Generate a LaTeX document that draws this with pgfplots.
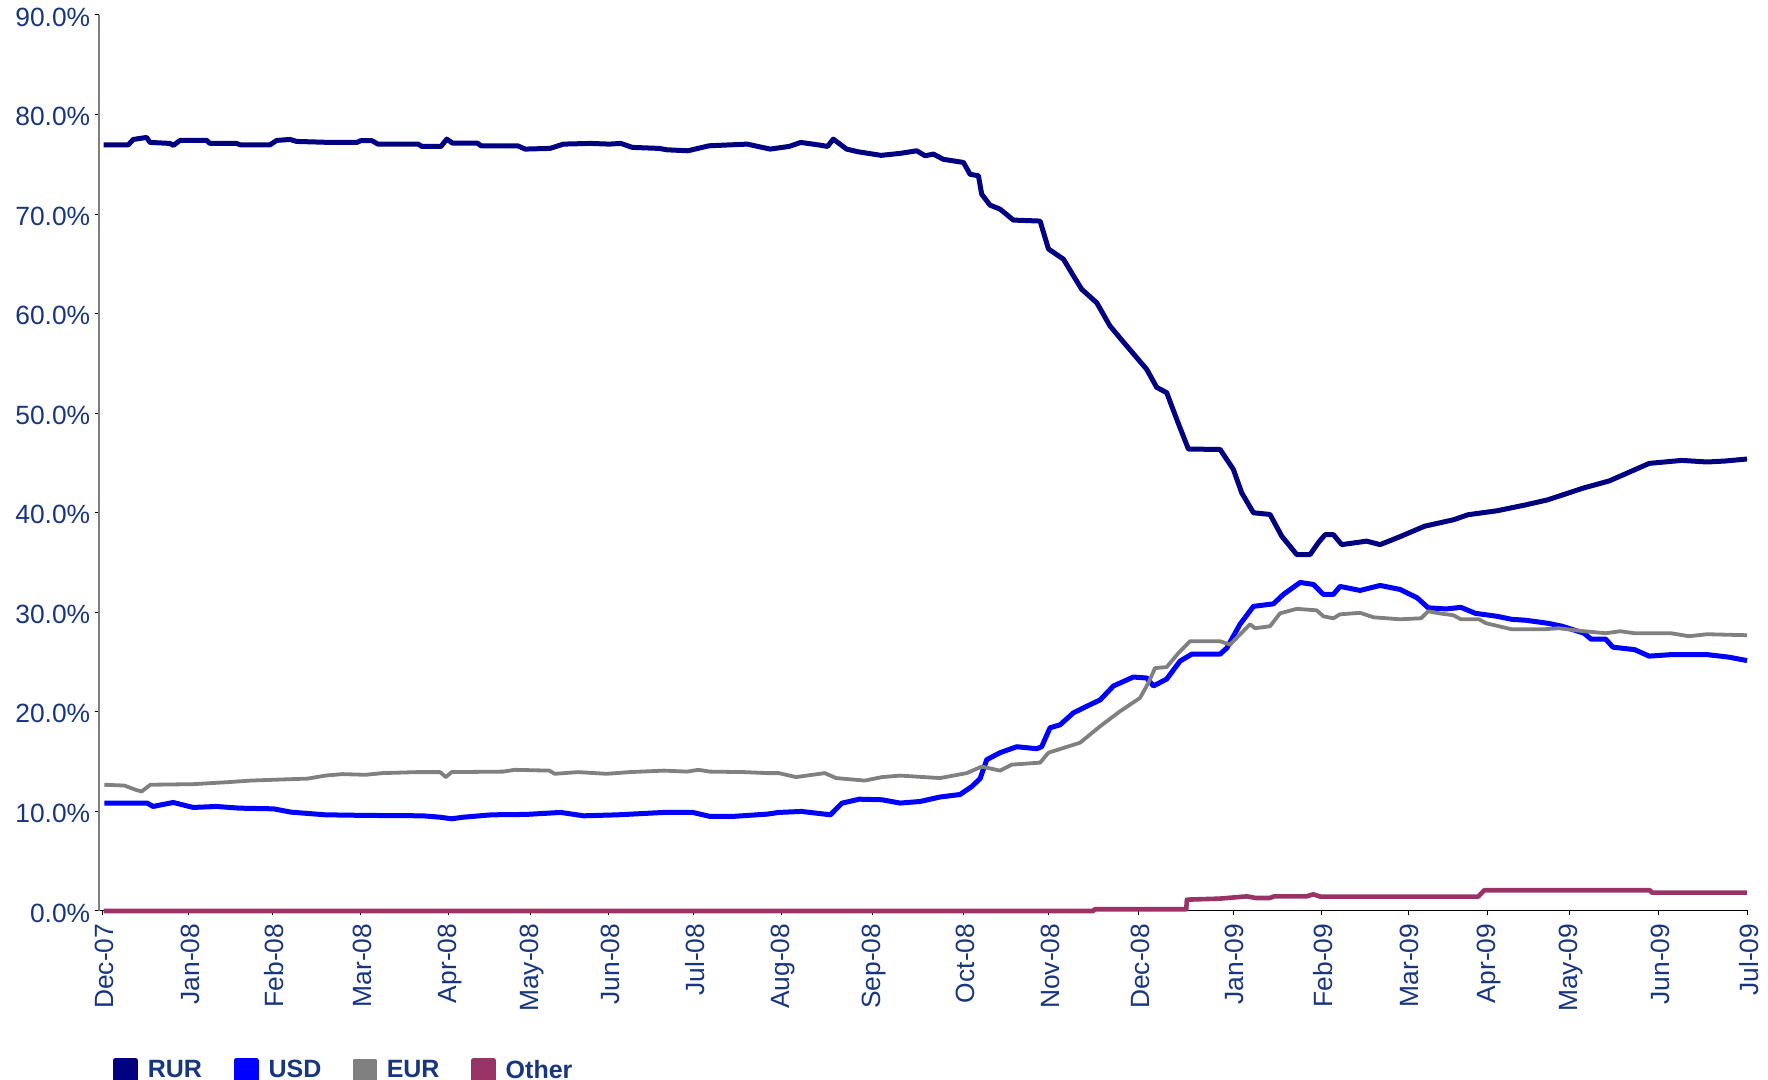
\documentclass[border=0pt]{standalone}
\usepackage{fontspec}
\setmainfont{Liberation Sans}
\usepackage{pgfplots}
\pgfplotsset{compat=1.18}

\definecolor{rurc}{RGB}{0,0,128}
\definecolor{usdc}{RGB}{0,0,255}
\definecolor{eurc}{RGB}{128,128,128}
\definecolor{othc}{RGB}{153,51,102}
\definecolor{labc}{RGB}{24,54,126}

\begin{document}
\begin{tikzpicture}
% picture frame: 1 px of the reference = 0.5pt
\path[use as bounding box] (0,0) rectangle (884pt,540pt);
\begin{axis}[
    at={(49.5pt,84.5pt)}, anchor=south west,
    scale only axis,
    width=824.5pt, height=448pt,
    xmin=87.8, xmax=1550.2,
    ymin=0, ymax=90,
    enlargelimits=false,
    clip=false,
    axis x line*=bottom,
    axis y line*=left,
    x axis line style={black, line width=0.5pt},
    y axis line style={eurc, line width=0.6pt},
    tick align=outside,
    major tick length=2.2pt,
    tick style={black, line width=0.5pt},
    ytick={0,10,...,90},
    yticklabel={\pgfmathprintnumber[fixed,fixed zerofill,precision=1]{\tick}\%},
    /pgf/number format/assume math mode=true,
    xtick={91,167.1,241.5,319.9,397.9,470.4,540,615.3,693,773.4,854.5,930.2,1009.6,1093.5,1171.6,1248.9,1319.2,1392.2,1470.9,1549.9},
    xticklabels={Dec-07,Jan-08,Feb-08,Mar-08,Apr-08,May-08,Jun-08,Jul-08,Aug-08,Sep-08,Oct-08,Nov-08,Dec-08,Jan-09,Feb-09,Mar-09,Apr-09,May-09,Jun-09,Jul-09},
    tick label style={font=\fontsize{13.2}{15}\selectfont, text=labc},
    xticklabel style={rotate=90, anchor=east, inner sep=0pt, xshift=-4pt, yshift=-0.8pt},
    yticklabel style={anchor=east, inner sep=0pt, xshift=-2pt, yshift=-1pt},
    legend columns=4,
    legend style={draw=none, fill=none, at={(0.0045,-0.178)}, anchor=west,
        font=\bfseries\fontsize{12.5}{14}\selectfont, text=labc,
        nodes={inner sep=0pt},
        /tikz/every odd column/.append style={column sep=5pt},
        /tikz/every even column/.append style={column sep=15.8pt}},
]
% RUR
\addplot[rurc, line width=2.5pt, line join=round,
    legend image code/.code={\fill[rurc] (0pt,-5pt) rectangle (10pt,5pt);}] coordinates {
(92,76.96) (113.8,76.96) (118.2,77.5) (130,77.7) (133,77.2) (150.8,77.1) (153.7,76.9)
(159.6,77.4) (183.3,77.4) (186.2,77.1) (209.9,77.1) (212.8,76.96) (239.5,76.96)
(245.4,77.4) (257.2,77.5) (263.1,77.3) (292.7,77.2) (316.5,77.2) (319.8,77.37)
(330,77.37) (335.1,77.03) (370.8,77.03) (374.1,76.8) (391.1,76.8) (396.2,77.53)
(401.3,77.13) (423.3,77.13) (426.7,76.86) (459,76.86) (465.8,76.53) (487.8,76.6)
(499.7,77.03) (523.5,77.1) (540.4,77.03) (550.6,77.1) (560.8,76.7) (584.5,76.6)
(591.3,76.46) (610,76.36) (628.7,76.86) (662.6,77.03) (683,76.53) (700,76.8)
(710.1,77.2) (727.1,76.93) (733.9,76.8) (739,77.53) (750.8,76.53) (761,76.26)
(781.4,75.9) (798.3,76.1) (813,76.36) (820.4,75.86) (827.8,76.03) (836.6,75.5)
(854.4,75.19) (860.3,74.0) (867.7,73.85) (870.6,72.0) (878,70.9) (886.9,70.5)
(898.7,69.4) (922.4,69.3) (929.8,66.5) (943.1,65.47) (952,63.8) (959.3,62.45)
(972.6,61.1) (984.4,58.76) (999.2,56.76) (1017,54.4) (1025.8,52.6) (1034.7,52.06)
(1043.6,49.38) (1053.9,46.4) (1082,46.36) (1093.8,44.36) (1101.2,42.0) (1111.6,40.0)
(1126.3,39.83) (1136.7,37.65) (1150,35.8) (1161.8,35.8) (1169.2,37.0) (1175.1,37.8)
(1182.5,37.8) (1189.9,36.8) (1212,37.15) (1223.9,36.8) (1241.6,37.6) (1263.4,38.65)
(1289.1,39.3) (1301.9,39.8) (1327.6,40.2) (1353.3,40.8) (1372.6,41.3) (1404.7,42.5)
(1427.2,43.2) (1443.3,44.0) (1462.6,44.96) (1491.5,45.26) (1514,45.1) (1530,45.2)
(1549.3,45.4)
};
\addlegendentry{RUR}
% USD
\addplot[usdc, line width=2.5pt, line join=round,
    legend image code/.code={\fill[usdc] (0pt,-5pt) rectangle (10pt,5pt);}] coordinates {
(92.5,10.83) (130.7,10.83) (135.8,10.5) (153.6,10.9) (171.4,10.4) (191.8,10.5)
(212.2,10.33) (242.7,10.26) (258,9.93) (288.5,9.66) (324.1,9.6) (375,9.56)
(390.3,9.42) (400.5,9.26) (410.7,9.42) (436.1,9.66) (466.7,9.7) (497.2,9.9)
(517.6,9.56) (548.1,9.66) (588.8,9.9) (614.3,9.9) (629.6,9.5) (649.9,9.5)
(680.5,9.73) (690.6,9.9) (710.9,10.0) (736.5,9.66) (746.6,10.83) (762,11.23)
(782.3,11.17) (798.2,10.84) (815.9,11.0) (833.7,11.45) (851.4,11.7) (861.8,12.5)
(869.2,13.3) (875.1,15.2) (886.9,15.9) (901.7,16.5) (919.4,16.3) (923.8,16.5)
(931.2,18.4) (940.1,18.7) (951.9,19.9) (963.7,20.56) (975.6,21.2) (987.4,22.6)
(1005.1,23.5) (1017,23.4) (1022.9,22.6) (1034.7,23.3) (1046.5,25.1) (1056.9,25.8)
(1082,25.8) (1087.9,26.4) (1099.7,28.8) (1111.6,30.6) (1129.3,30.85) (1138.2,31.8)
(1153,33.0) (1164.8,32.8) (1173.6,31.8) (1182.5,31.8) (1188.4,32.6) (1206.2,32.2)
(1223.9,32.7) (1241.6,32.3) (1256.9,31.45) (1266.6,30.45) (1282.6,30.34)
(1295.5,30.5) (1308.4,29.9) (1327.6,29.6) (1340.5,29.3) (1353.3,29.2) (1372.6,28.9)
(1385.5,28.6) (1404.7,27.9) (1411.1,27.3) (1424,27.3) (1430.4,26.5) (1449.7,26.25)
(1462.5,25.6) (1481.8,25.75) (1514,25.75) (1533.2,25.5) (1549.3,25.15)
};
\addlegendentry{USD}
% EUR
\addplot[eurc, line width=1.9pt, line join=round,
    legend image code/.code={\fill[eurc] (0pt,-5pt) rectangle (10pt,5pt);}] coordinates {
(92.5,12.68) (110.3,12.6) (120.5,12.17) (125.6,12.0) (133.3,12.68) (171.4,12.74)
(202,12.94) (222.3,13.1) (247.8,13.2) (273.2,13.3) (288.5,13.6) (303.8,13.75)
(324.1,13.68) (339.4,13.85) (370,13.95) (390.3,13.95) (395.4,13.45) (400.5,13.95)
(446.3,14.0) (456.5,14.18) (487,14.1) (492.1,13.78) (512.5,13.95) (538,13.78)
(558.3,13.95) (588.8,14.1) (609.2,14.0) (619.4,14.18) (629.6,14.0) (660.1,13.95)
(680.5,13.85) (690.6,13.85) (706,13.45) (731.4,13.85) (741.6,13.35) (767,13.1)
(782.3,13.45) (798.2,13.6) (833.7,13.35) (857.3,13.85) (870.6,14.5) (886.9,14.1)
(897.2,14.7) (922.4,14.9) (929.8,15.9) (957.8,16.9) (975.6,18.55) (993.3,20.06)
(1011,21.4) (1018.4,22.9) (1024.3,24.4) (1034.7,24.5) (1045,25.9) (1055.4,27.1)
(1082,27.1) (1090.9,26.76) (1108.6,28.8) (1113,28.4) (1126.3,28.6) (1135.2,29.9)
(1150,30.35) (1167.7,30.2) (1173.6,29.6) (1182.5,29.4) (1188.4,29.8) (1206.2,29.95)
(1218,29.5) (1241.6,29.3) (1260.2,29.4) (1266.6,30.1) (1276.2,29.9) (1289.1,29.7)
(1295.5,29.3) (1311.6,29.3) (1318,28.9) (1340.5,28.3) (1369.4,28.3) (1382.2,28.4)
(1404.7,28.1) (1424,27.9) (1436.9,28.1) (1449.7,27.9) (1481.8,27.9) (1497.9,27.6)
(1514,27.8) (1549.3,27.7)
};
\addlegendentry{EUR}
% Other
\addplot[othc, line width=2.3pt, line join=round,
    legend image code/.code={\fill[othc] (0pt,-5pt) rectangle (10pt,5pt);}] coordinates {
(92,0) (969.8,0) (970.5,0.17) (1052,0.17) (1052.6,1.14) (1081.5,1.24) (1105.8,1.47)
(1114,1.3) (1126,1.3) (1130,1.47) (1158.6,1.47) (1164.7,1.67) (1170.8,1.45)
(1310.9,1.44) (1316.2,2.08) (1463.2,2.08) (1465,1.84) (1549.3,1.84)
};
\addlegendentry{Other}
\end{axis}
\end{tikzpicture}
\end{document}
